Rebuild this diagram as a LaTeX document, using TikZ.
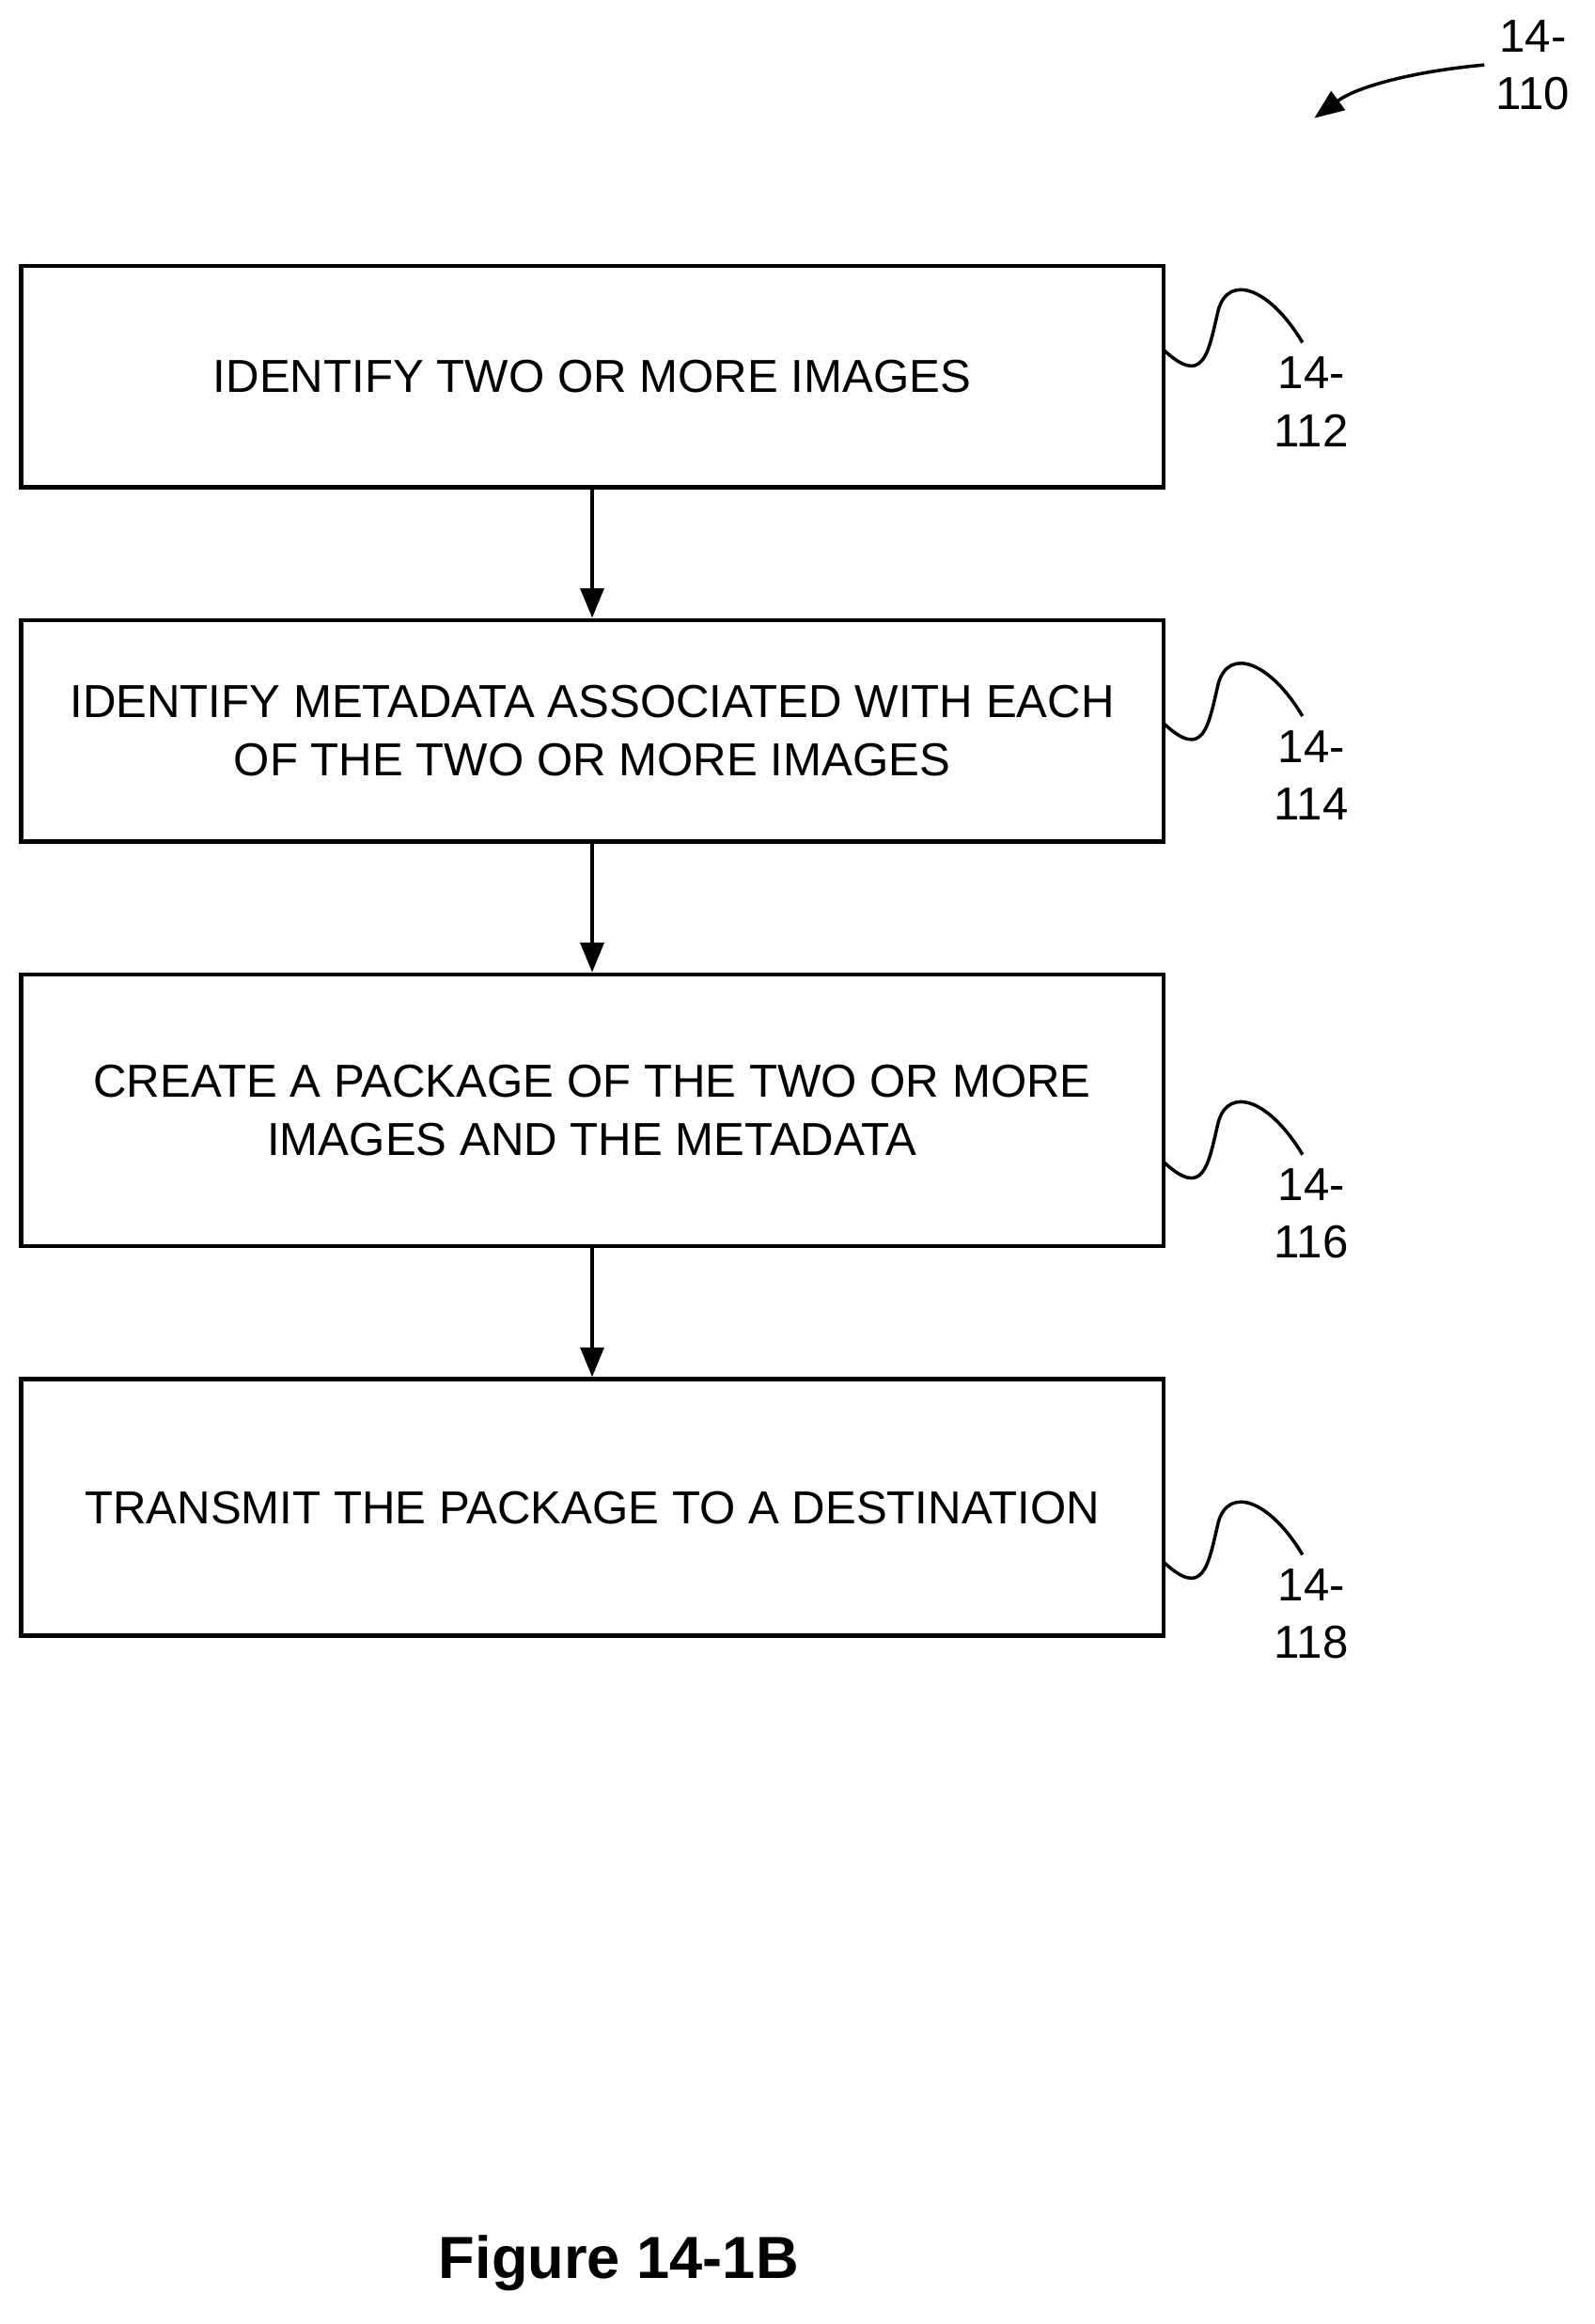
\documentclass[tikz,border=0pt]{standalone}
\usepackage{fontspec}
\setmainfont{Liberation Sans}
\usetikzlibrary{arrows.meta,positioning}
\tikzset{
  box/.style={draw, line width=1.3pt, minimum width=12.16cm, align=center,
    font=\fontsize{14}{17.5}\selectfont},
  flow/.style={-{Triangle[length=9pt,width=7pt]}, line width=1.3pt},
  tag/.style={align=center, font=\fontsize{14}{17.5}\selectfont},
  squig/.style={line width=1pt},
}
\begin{document}
\begin{tikzpicture}[x=0.01571cm, y=-0.01571cm]
  \useasboundingbox (0,0) rectangle (1080,1574);

  % steps
  \node[box, minimum height=2.357cm] (s112) at (401,255) {IDENTIFY TWO OR MORE IMAGES};
  \node[box, minimum height=2.357cm] (s114) at (401,495) {IDENTIFY METADATA ASSOCIATED WITH EACH\\OF THE TWO OR MORE IMAGES};
  \node[box, minimum height=2.89cm] (s116) at (401,752) {CREATE A PACKAGE OF THE TWO OR MORE\\IMAGES AND THE METADATA};
  \node[box, minimum height=2.73cm] (s118) at (401,1021) {TRANSMIT THE PACKAGE TO A DESTINATION};

  \draw[flow] (s112) -- (s114);
  \draw[flow] (s114) -- (s116);
  \draw[flow] (s116) -- (s118);

  % reference labels
  \foreach \n/\y in {112/237, 114/490, 116/787, 118/1058} {
    \draw[squig] (788,\y) .. controls (815,\y+25) and (818,\y+3) .. (825,\y-27)
      .. controls (832,\y-52) and (860,\y-42) .. (882,\y-5);
    \node[tag] (l\n) at (888,\y+35) {14-\\\n};
  }

  % figure label
  \node[tag] (l110) at (1038,44) {14-\\110};
  \draw[-{Triangle[length=9pt,width=7pt]}, line width=1pt]
    (l110.west) .. controls (960,48) and (920,58) .. (890,80);

  \node[font=\bfseries\fontsize{18}{22}\selectfont] (fig) at (419,1533) {Figure 14-1B};
\end{tikzpicture}
\end{document}
